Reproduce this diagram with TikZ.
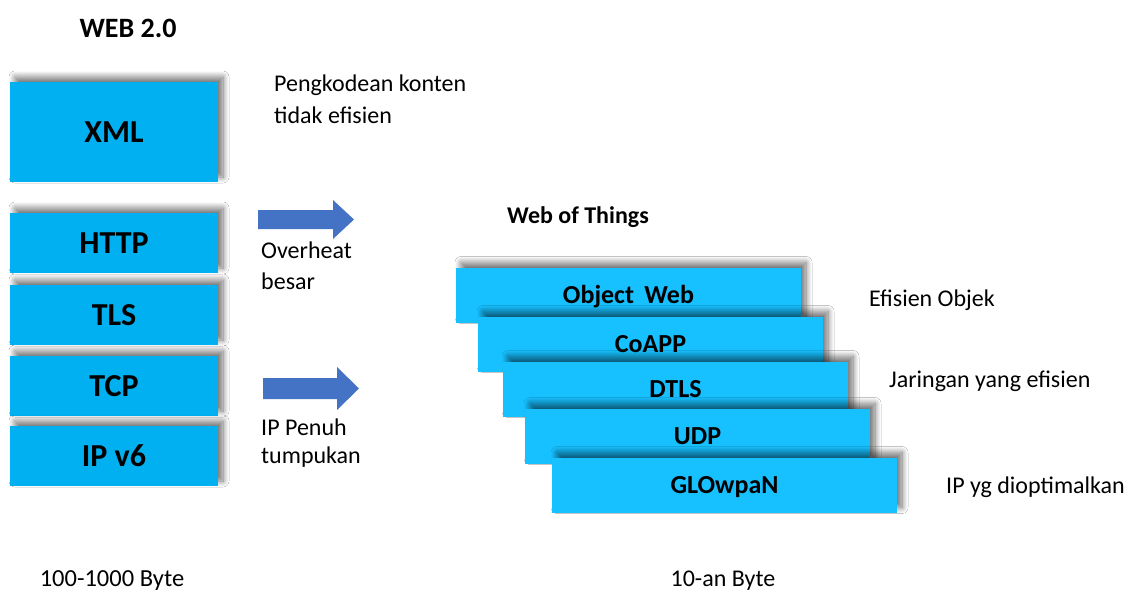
\documentclass[tikz,border=0pt]{standalone}
\usepackage{fontspec}
\setmainfont{Carlito}
\usetikzlibrary{shadows.blur}
\definecolor{stackblue}{HTML}{00B0F0}
\definecolor{wotblue}{HTML}{17C0FF}
\definecolor{arrowblue}{HTML}{4472C4}
\begin{document}
\begin{tikzpicture}[x=1pt,y=-1pt,
  layer/.style={fill=#1, draw=none, inner sep=0pt, text depth=0pt,
    blur shadow={shadow xshift=5pt, shadow yshift=5pt, shadow blur radius=6pt,
      shadow blur steps=12, shadow blur extra rounding=0pt, shadow opacity=55}},
  oldbox/.style={layer=stackblue, minimum width=208pt, text height=20.6pt, font=\fontsize{32}{36}\selectfont\bfseries},
  wotbox/.style={layer=wotblue, minimum width=345pt, minimum height=55pt, text height=16.7pt, font=\fontsize{26}{30}\selectfont\bfseries},
  lbl/.style={anchor=west, inner sep=0pt, font=\fontsize{24}{28}\selectfont},
  title/.style={inner sep=0pt, font=\fontsize{28}{32}\selectfont\bfseries},
  fatarrow/.style={fill=arrowblue, draw=none}]
\fill[white] (0,0) rectangle (1130,592);
\useasboundingbox (0,0) rectangle (1130,592);

% classic web stack
\node[title] (web2) at (128,28) {WEB 2.0};
\node[oldbox, minimum height=100pt] (xml) at (114,132) {XML};
\node[oldbox, minimum height=60pt] (http) at (114,243) {HTTP};
\node[oldbox, minimum height=60pt] (tls) at (114,315) {TLS};
\node[oldbox, minimum height=60pt] (tcp) at (114,386) {TCP};
\node[oldbox, minimum height=60pt] (ipv6) at (114,456) {IP v6};

\node[lbl] (enc1) at (274,85) {Pengkodean konten};
\node[lbl] (enc2) at (274,115) {tidak efisien};

% block arrows
\fill[fatarrow] (258,210) -- (333,210) -- (333,200) -- (354,219.5) -- (333,239) -- (333,229) -- (258,229) -- cycle;
\fill[fatarrow] (263,378) -- (337,378) -- (337,367) -- (359,388.5) -- (337,410) -- (337,399) -- (263,399) -- cycle;

\node[lbl] (ovh1) at (261,250) {Overheat};
\node[lbl] (ovh2) at (261,281) {besar};
\node[lbl] (ipf1) at (261,427) {IP Penuh};
\node[lbl] (ipf2) at (261,457) {tumpukan};

% web of things stack
\node[title, font=\fontsize{24}{28}\selectfont\bfseries] (wot) at (578,217) {Web of Things};
\node[wotbox] (objweb) at (628.5,295) {Object\, Web};
\node[wotbox] (coapp) at (650.5,344) {CoAPP};
\node[wotbox] (dtls) at (675.5,389) {DTLS};
\node[wotbox] (udp) at (697.5,436) {UDP};
\node[wotbox] (glowpan) at (724.5,485) {GLOwpaN};

\node[lbl] (eff1) at (869,300) {Efisien Objek};
\node[lbl] (eff2) at (889,381) {Jaringan yang efisien};
\node[lbl] (eff3) at (946,487) {IP yg dioptimalkan};

% payload sizes
\node[anchor=base, inner sep=0pt, font=\fontsize{24.5}{28}\selectfont] (size1) at (112,586) {100-1000 Byte};
\node[anchor=base, inner sep=0pt, font=\fontsize{24}{28}\selectfont] (size2) at (723,586) {10-an Byte};
\end{tikzpicture}
\end{document}
